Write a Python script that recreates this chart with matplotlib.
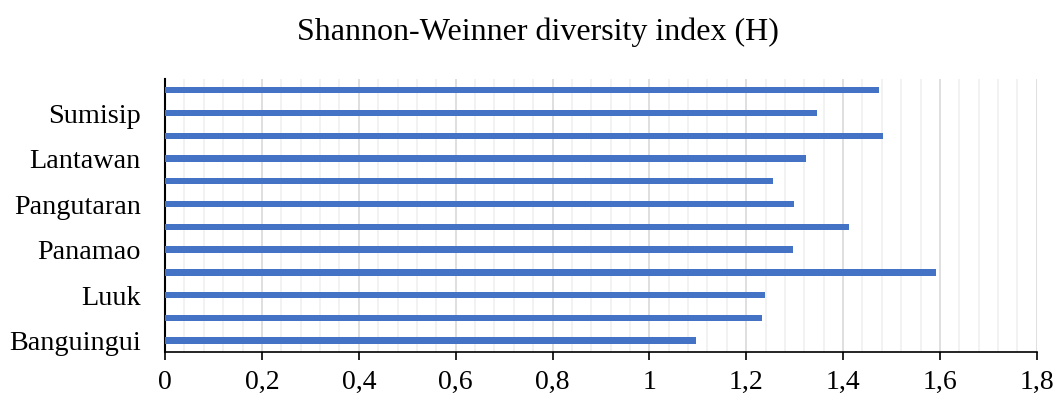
import matplotlib.pyplot as plt
from matplotlib.ticker import MultipleLocator, FuncFormatter

# Shannon-Weinner index per site, listed bottom to top
sites = ["Banguingui", "", "Luuk", "", "Panamao", "", "Pangutaran", "",
         "Lantawan", "", "Sumisip", ""]
h_index = [1.097, 1.233, 1.239, 1.591, 1.296, 1.412, 1.299, 1.255,
           1.323, 1.483, 1.347, 1.475]

plt.rcParams["font.family"] = ["Liberation Serif", "DejaVu Serif"]

fig = plt.figure(figsize=(10.58, 3.93), dpi=100)
ax = fig.add_axes([0.156, 0.1043, 0.824, 0.695])

pos = list(range(len(h_index)))
ax.barh(pos, h_index, height=0.28, color="#4472C4", zorder=3)

ax.set_xlim(0, 1.8)
ax.set_ylim(-0.5, len(h_index) - 0.5)
ax.set_yticks(pos)
ax.set_yticklabels(sites, fontsize=20.3)
ax.tick_params(axis="y", length=0, pad=17.5)

ax.xaxis.set_major_locator(MultipleLocator(0.2))
ax.xaxis.set_minor_locator(MultipleLocator(0.04))
ax.xaxis.set_major_formatter(FuncFormatter(lambda v, _: f"{v:.1f}".rstrip("0").rstrip(".").replace(".", ",")))
ax.tick_params(axis="x", which="major", labelsize=20, length=6, width=1.2, color="black", pad=7)
ax.tick_params(axis="x", which="minor", length=0)

ax.grid(axis="x", which="major", color="#d9d9d9", lw=1.2, zorder=0)
ax.grid(axis="x", which="minor", color="#f0f0f0", lw=1.2, zorder=0)
ax.grid(axis="y", visible=False)

for s in ("top", "right"):
    ax.spines[s].set_visible(False)
ax.spines["left"].set_linewidth(1.5)
ax.spines["bottom"].set_linewidth(1.2)

fig.text(0.508, 0.918, "Shannon-Weinner diversity index (H)", ha="center", va="center", fontsize=23)

fig.savefig("out.png", dpi=100)
